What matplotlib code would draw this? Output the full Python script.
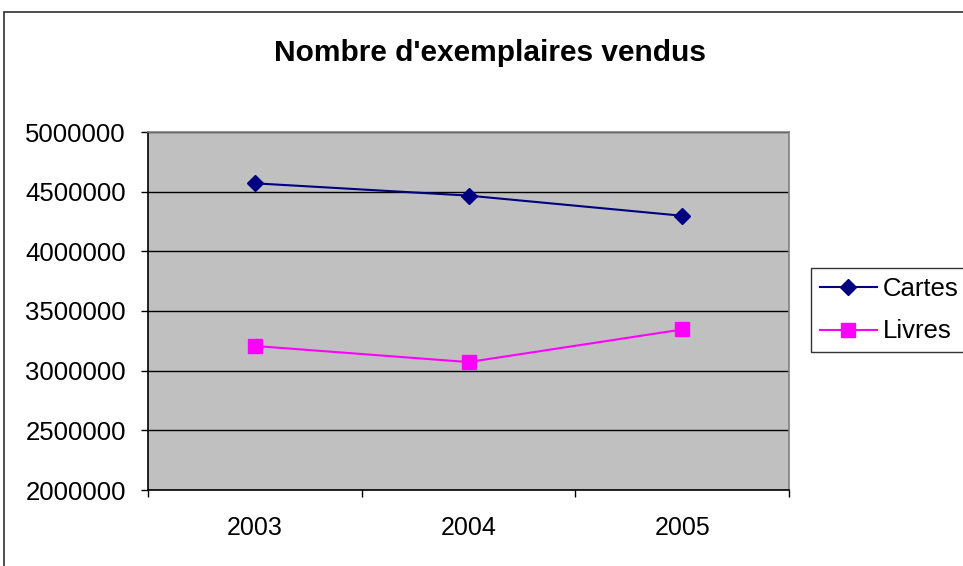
import matplotlib
matplotlib.use("Agg")
import matplotlib.pyplot as plt
from matplotlib.patches import Rectangle
from matplotlib.lines import Line2D

years = ["2003", "2004", "2005"]
cartes = [4570000, 4467000, 4298000]
livres = [3207000, 3072000, 3345000]
yticks = [2000000, 2500000, 3000000, 3500000, 4000000, 4500000, 5000000]

plt.rcParams['font.family'] = ['Liberation Sans', 'DejaVu Sans']

W, H = 963, 566
fig = plt.figure(figsize=(W/100, H/100), dpi=100)
fig.patch.set_facecolor('white')

# chart outer border (extends beyond right/bottom edge)
fig.patches.append(Rectangle((4/W, -0.1), 1.2, 1 - 12/H + 0.1, transform=fig.transFigure,
                             fill=False, edgecolor='#303030', linewidth=1.2))

l, r, t, b = 148, 789, 132, 490
ax = fig.add_axes([l/W, 1 - b/H, (r-l)/W, (b-t)/H])
ax.set_facecolor('#C0C0C0')

xpos = [i + 0.5 for i in range(len(years))]
ax.plot(xpos, cartes, color='#000080', marker='D', markersize=8.5, linewidth=1.5, label='Cartes')
ax.plot(xpos, livres, color='#FF00FF', marker='s', markersize=9.5, linewidth=1.5, label='Livres')

ax.set_xlim(0, 3)
ax.set_ylim(yticks[0], yticks[-1])
ax.set_yticks(yticks)
ax.set_yticklabels([str(v) for v in yticks])
ax.yaxis.grid(True, color='black', linewidth=1)
ax.set_axisbelow(True)

ax.set_xticks([0, 1, 2, 3])
ax.set_xticklabels([])
ax.set_xticks(xpos, minor=True)
ax.set_xticklabels(years, minor=True)
ax.tick_params(axis='x', which='major', direction='out', length=5, width=1, color='black')
ax.tick_params(axis='x', which='minor', length=0, pad=19, labelsize=18)
ax.tick_params(axis='y', direction='out', length=5, width=1, color='black', pad=11, labelsize=18.5)

for s in ['top', 'right']:
    ax.spines[s].set_color('#808080')
    ax.spines[s].set_linewidth(1.2)
for s in ['left', 'bottom']:
    ax.spines[s].set_color('black')
    ax.spines[s].set_linewidth(1.2)

fig.text(490/W, 1 - 53/H, "Nombre d'exemplaires vendus", ha='center', va='center',
         fontsize=21.5, fontweight='bold')

leg = fig.legend(loc='upper left', bbox_to_anchor=(811/W, 1 - 268/H), frameon=True,
                 fontsize=18.5, handlelength=2.2, handletextpad=0.25, borderpad=0.35,
                 labelspacing=0.72, fancybox=False, borderaxespad=0)
leg.get_frame().set_edgecolor('black')
leg.get_frame().set_linewidth(1)

fig.savefig('out.png', dpi=100)
